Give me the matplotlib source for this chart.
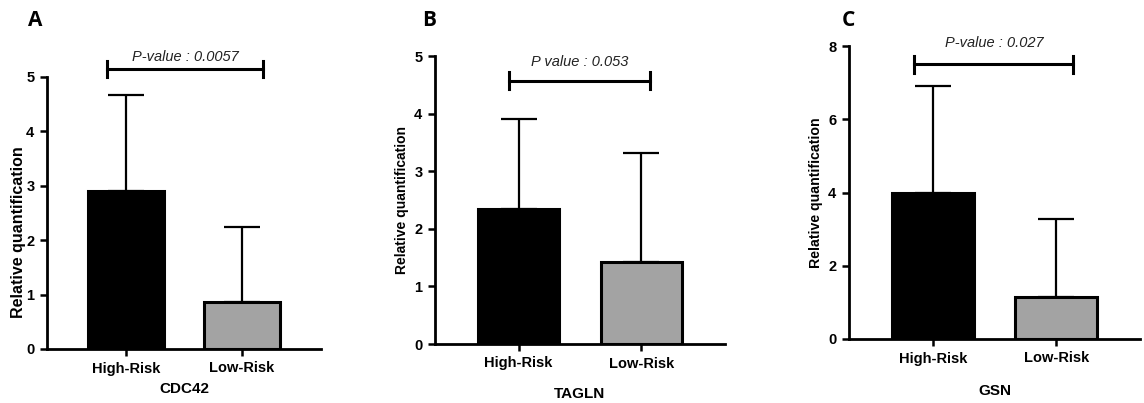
import numpy as np
import matplotlib
matplotlib.use("Agg")
import matplotlib.pyplot as plt

plt.rcParams["font.family"] = ["Liberation Sans", "DejaVu Sans"]

groups = ["High-Risk", "Low-Risk"]
genes = ["CDC42", "TAGLN", "GSN"]
letters = ["A", "B", "C"]

cdc42_mean = [2.90, 0.87]
cdc42_sd = [1.76, 1.38]
tagln_mean = [2.34, 1.42]
tagln_sd = [1.57, 1.89]
gsn_mean = [4.00, 1.15]
gsn_sd = [2.90, 2.14]

p_labels = ["P-value : 0.0057", "P value : 0.053", "P-value : 0.027"]
p_heights = [5.15, 4.57, 7.5]
y_maxes = [5, 5, 8]
y_steps = [1, 1, 2]

means = [cdc42_mean, tagln_mean, gsn_mean]
sds = [cdc42_sd, tagln_sd, gsn_sd]

# panel layout, in figure pixels (left, right, bottom, top)
boxes = [(47, 321, 349, 77), (435, 725, 344, 56), (849, 1140, 339, 46)]
brackets = [(-0.16, 1.18), (-0.08, 1.07), (-0.15, 1.14)]
text_off = [0.22, 0.33, 0.36]
ylab_x = [-0.075, -0.09, -0.09]
ylab_y = [0.43, 0.5, 0.5]
ylab_size = [11.5, 10, 10.2]
xlab_y = [-0.121, -0.149, -0.154]
letter_x = [35, 429, 848]

W, H = 1144, 403
fig = plt.figure(figsize=(W / 100, H / 100), dpi=100)

for i in range(3):
    l, r, b, t = boxes[i]
    ax = fig.add_axes([l / W, (H - b) / H, (r - l) / W, (b - t) / H])
    x = np.arange(len(groups))
    ax.bar(x, means[i], width=0.66, color=["black", "#a3a3a3"],
           edgecolor="black", linewidth=2.2, zorder=2)
    ax.errorbar(x, means[i], yerr=[np.zeros(2), sds[i]], fmt="none",
                ecolor="black", elinewidth=1.6, capsize=13, capthick=1.6,
                zorder=1)

    ax.set_xlim(-0.68, 1.68)
    ax.set_ylim(0, y_maxes[i])
    ax.set_yticks(np.arange(0, y_maxes[i] + 0.1, y_steps[i]))
    ax.set_xticks(x)
    ax.set_xticklabels(groups)
    for lab in ax.get_xticklabels() + ax.get_yticklabels():
        lab.set_fontweight("bold")
        lab.set_fontsize(10.5)
    ax.tick_params(direction="out", length=5, width=1.8, pad=4)

    for s in ["top", "right"]:
        ax.spines[s].set_visible(False)
    for s in ["left", "bottom"]:
        ax.spines[s].set_linewidth(2.0)

    ax.set_ylabel("Relative quantification", fontsize=ylab_size[i],
                  fontweight="bold")
    ax.yaxis.set_label_coords(ylab_x[i], ylab_y[i])
    ax.set_xlabel(genes[i], fontsize=11, fontweight="bold")
    ax.xaxis.set_label_coords(0.5, xlab_y[i])

    # significance bracket
    x0, x1 = brackets[i]
    yb = p_heights[i]
    cap = 0.03 * y_maxes[i]
    ax.plot([x0, x1], [yb, yb], color="black", lw=2.2, clip_on=False)
    ax.plot([x0, x0], [yb - cap, yb + cap], color="black", lw=2.2, clip_on=False)
    ax.plot([x1, x1], [yb - cap, yb + cap], color="black", lw=2.2, clip_on=False)
    ax.text((x0 + x1) / 2, yb + text_off[i] * y_maxes[i] / 5, p_labels[i],
            ha="center", va="center", fontsize=10.5, style="italic",
            color="#222222", clip_on=False)

    fig.text(letter_x[i] / W, 1 - 20 / H, letters[i], ha="center", va="center",
             fontsize=15, fontweight="bold", family=["Open Sans", "DejaVu Sans"])

fig.savefig("out.png", dpi=100)
